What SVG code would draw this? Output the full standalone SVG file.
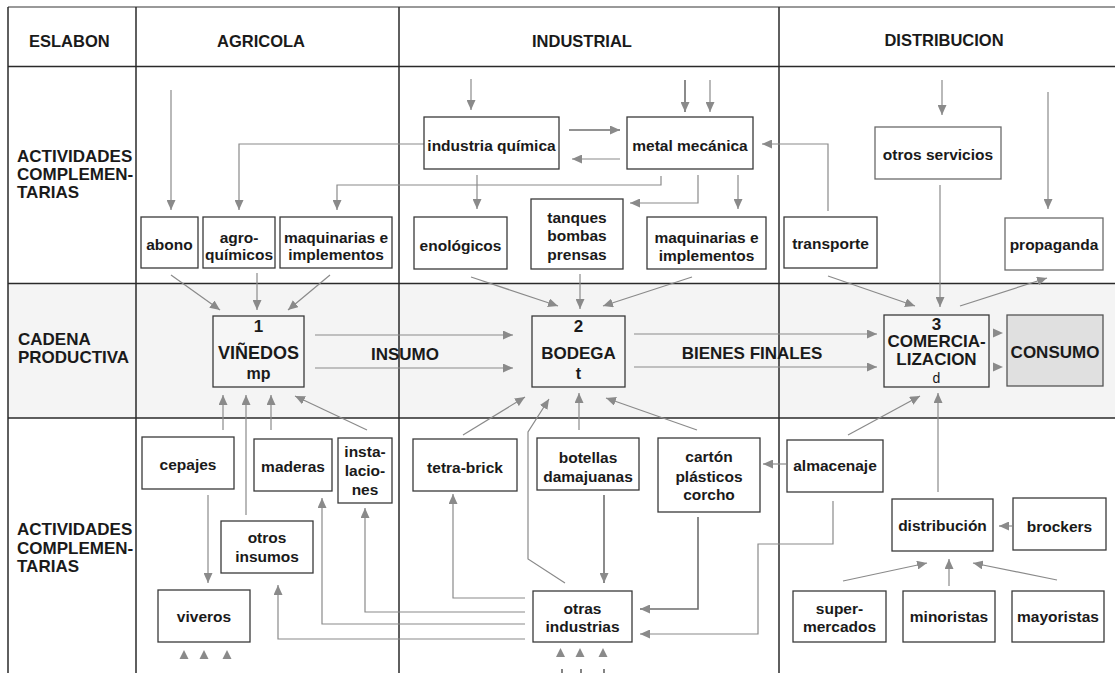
<svg xmlns="http://www.w3.org/2000/svg" width="1115" height="673" viewBox="0 0 1115 673">
<style>
.bg{fill:#ffffff}
.band{fill:#f4f4f4}
.grid{stroke:#2a2a2a;stroke-width:1.5;fill:none}
.n rect{fill:#ffffff;stroke:#3a3a3a;stroke-width:1.3}
.n.light rect{stroke:#6a6a6a}
.n.cad rect{fill:#f6f6f6}
.n.cons rect{fill:#e0e0e0;stroke:#555}
text{font-family:"Liberation Sans",Arial,Helvetica,sans-serif;font-weight:bold;fill:#1a1a1a}
.t{font-size:15.5px;text-anchor:middle}
.h{font-size:16.5px}
.hc{font-size:16.5px;text-anchor:middle}
.lab{font-size:17px}
.big{font-size:17px;text-anchor:middle}
.c line,.c polyline{fill:none;stroke:#8a8a8a;stroke-width:1.2;marker-end:url(#ah)}
.c .dk{stroke:#6e6e6e;stroke-width:1.6}
.c .nm{marker-end:none}
.tri{fill:#8a8a8a}
</style>
<defs>
<marker id="ah" viewBox="0 0 10 9" refX="10" refY="4.5" markerWidth="10" markerHeight="9" markerUnits="userSpaceOnUse" orient="auto">
<path d="M0,0 L10,4.5 L0,9 z" fill="#8a8a8a"/>
</marker>
</defs>
<rect class="bg" x="0" y="0" width="1115" height="673"/>
<rect class="band" x="8" y="283.5" width="1107" height="134.5"/>
<g id="table">
<line class="grid" x1="8" y1="7" x2="1115" y2="7" style="stroke:#777"/>
<line class="grid" x1="8" y1="66.5" x2="1115" y2="66.5"/>
<line class="grid" x1="8" y1="283.5" x2="1115" y2="283.5"/>
<line class="grid" x1="8" y1="418" x2="1115" y2="418"/>
<line class="grid" x1="8" y1="7" x2="8" y2="673"/>
<line class="grid" x1="136" y1="7" x2="136" y2="673"/>
<line class="grid" x1="399" y1="7" x2="399" y2="673"/>
<line class="grid" x1="779" y1="7" x2="779" y2="673"/>
<text class="h" x="29" y="46.5">ESLABON</text>
<text class="hc" x="261" y="46.5">AGRICOLA</text>
<text class="hc" x="582" y="46.5">INDUSTRIAL</text>
<text class="hc" x="944" y="46">DISTRIBUCION</text>
<text class="lab" x="17" y="161.5">ACTIVIDADES</text>
<text class="lab" x="17" y="180">COMPLEMEN-</text>
<text class="lab" x="17" y="198.3">TARIAS</text>
<text class="lab" x="18" y="345">CADENA</text>
<text class="lab" x="18" y="363.3">PRODUCTIVA</text>
<text class="lab" x="17" y="535">ACTIVIDADES</text>
<text class="lab" x="17" y="553.5">COMPLEMEN-</text>
<text class="lab" x="17" y="572">TARIAS</text>
<text class="big" x="405" y="359.5">INSUMO</text>
<text class="big" x="752" y="359">BIENES FINALES</text>
</g>

<g class="c" id="connectors">
<line x1="171" y1="90" x2="171" y2="210"/>
<polyline points="424,144 239,144 239,210"/>
<polyline points="661,176 661,185 337,185 337,210"/>
<line x1="471" y1="79" x2="471" y2="110"/>
<line class="dk" x1="685" y1="80" x2="685" y2="112"/>
<line x1="710" y1="80" x2="710" y2="112"/>
<line class="dk" x1="569" y1="130" x2="620" y2="130"/>
<line x1="620" y1="159" x2="572" y2="159"/>
<polyline points="828,211 828,144 762,144"/>
<line x1="477" y1="175" x2="477" y2="209"/>
<polyline points="698,175 698,203 630,203"/>
<line x1="738" y1="175" x2="738" y2="209"/>
<line x1="942" y1="80" x2="942" y2="115"/>
<line x1="1048" y1="92" x2="1048" y2="209"/>
<line x1="940" y1="185" x2="940" y2="307"/>
<line x1="960" y1="306" x2="1047" y2="278"/>
<line x1="828" y1="276" x2="915" y2="306"/>
<line x1="171" y1="275" x2="220" y2="310"/>
<line x1="257" y1="273" x2="257" y2="310"/>
<line x1="330" y1="275" x2="288" y2="310"/>
<line x1="471" y1="277" x2="558" y2="306"/>
<line x1="580" y1="274" x2="580" y2="309"/>
<line x1="692" y1="277" x2="603" y2="306"/>
<line x1="315" y1="335" x2="513" y2="335"/>
<line x1="315" y1="368" x2="513" y2="368"/>
<line x1="634" y1="334" x2="877" y2="334"/>
<line x1="634" y1="367" x2="877" y2="367"/>
<line x1="223" y1="430" x2="223" y2="395"/>
<line x1="246" y1="515" x2="246" y2="395"/>
<line x1="271" y1="430" x2="271" y2="395"/>
<line x1="367" y1="430" x2="295" y2="396"/>
<line x1="208" y1="495" x2="208" y2="583"/>
<polyline points="525,612 365,612 365,508"/>
<polyline points="525,624 322,624 322,498"/>
<polyline points="525,639 278,639 278,585"/>
<polyline points="525,598 453,598 453,494"/>
<line class="dk" x1="604" y1="495" x2="604" y2="583"/>
<polyline class="dk" points="698,517 698,609 640,609"/>
<polyline points="833,501 833,544 758,544 758,634 640,634"/>
<line x1="786" y1="464" x2="763" y2="464"/>
<line x1="463" y1="435" x2="525" y2="397"/>
<polyline points="565,583 528,559 528,432 549,399"/>
<line x1="579" y1="430" x2="579" y2="393"/>
<line x1="697" y1="430" x2="606" y2="398"/>
<line x1="848" y1="435" x2="920" y2="396"/>
<line x1="938" y1="492" x2="938" y2="393"/>
<line x1="1012" y1="526" x2="999" y2="526"/>
<line x1="843" y1="581" x2="927" y2="563"/>
<line x1="949" y1="586" x2="949" y2="559"/>
<line x1="1057" y1="580" x2="973" y2="563"/>
<path class="tri" d="M993,328.5 L1003,333 L993,337.5 z"/>
<path class="tri" d="M993,362.5 L1003,367 L993,371.5 z"/>
<path class="tri" d="M179.5,659 L184,650 L188.5,659 z"/>
<path class="tri" d="M199.5,659 L204,650 L208.5,659 z"/>
<path class="tri" d="M222.5,659 L227,650 L231.5,659 z"/>
<path class="tri" d="M556,657 L560.5,648 L565,657 z"/>
<path class="tri" d="M575.5,657 L580,648 L584.5,657 z"/>
<path class="tri" d="M598.5,657 L603,648 L607.5,657 z"/>
<line class="nm" x1="562" y1="669" x2="562" y2="673" style="stroke:#333"/>
<line class="nm" x1="581" y1="669" x2="581" y2="673" style="stroke:#333"/>
<line class="nm" x1="604" y1="669" x2="604" y2="673" style="stroke:#333"/>
</g>

<g id="abono" class="n"><rect x="141" y="217" width="57" height="51"/><text class="t" x="169.5" y="250">abono</text></g>
<g id="agroquimicos" class="n"><rect x="203" y="217" width="72" height="51"/><text class="t" x="239" y="243">agro-</text><text class="t" x="239" y="260">químicos</text></g>
<g id="maquinarias-agri" class="n"><rect x="280" y="217" width="112" height="51"/><text class="t" x="336" y="243">maquinarias e</text><text class="t" x="336" y="260">implementos</text></g>
<g id="industria-quimica" class="n"><rect x="424" y="117" width="135" height="52"/><text class="t" x="491.5" y="150.5">industria química</text></g>
<g id="metal-mecanica" class="n"><rect x="627" y="117" width="126" height="52"/><text class="t" x="690" y="150.5">metal mecánica</text></g>
<g id="enologicos" class="n"><rect x="414" y="217" width="93" height="52"/><text class="t" x="460.5" y="250.5">enológicos</text></g>
<g id="tanques" class="n"><rect x="531" y="199" width="92" height="70"/><text class="t" x="577" y="222.5">tanques</text><text class="t" x="577" y="241">bombas</text><text class="t" x="577" y="259.5">prensas</text></g>
<g id="maquinarias-ind" class="n"><rect x="647" y="217" width="119" height="52"/><text class="t" x="706.5" y="243.3">maquinarias e</text><text class="t" x="706.5" y="260.5">implementos</text></g>
<g id="otros-servicios" class="n light"><rect x="875" y="127" width="126" height="52"/><text class="t" x="938" y="160">otros servicios</text></g>
<g id="transporte" class="n"><rect x="784" y="217" width="93" height="51"/><text class="t" x="830.5" y="248.5">transporte</text></g>
<g id="propaganda" class="n light"><rect x="1005" y="218" width="98" height="52"/><text class="t" x="1054" y="250">propaganda</text></g>

<g id="vinedos" class="n cad"><rect x="213" y="316" width="91" height="71"/><text class="big" x="258.5" y="331.5">1</text><text class="big" x="258.5" y="358.5" style="font-size:18px">VIÑEDOS</text><text class="t" x="258.5" y="379" style="font-size:16px">mp</text></g>
<g id="bodega" class="n cad"><rect x="532" y="316" width="93" height="71"/><text class="big" x="578.5" y="331.5">2</text><text class="big" x="578.5" y="358.5">BODEGA</text><text class="t" x="578.5" y="379" style="font-size:16px">t</text></g>
<g id="comercializacion" class="n cad"><rect x="884" y="315" width="105" height="72"/><text class="big" x="936.5" y="329.5">3</text><text class="big" x="936.5" y="346.5">COMERCIA-</text><text class="big" x="936.5" y="364.5">LIZACION</text><text class="t" x="936.5" y="382.5" style="font-weight:normal;font-size:14px">d</text></g>
<g id="consumo" class="n cons"><rect x="1007" y="315" width="96" height="71"/><text class="big" x="1055" y="358.3">CONSUMO</text></g>

<g id="cepajes" class="n"><rect x="142" y="437" width="92" height="52"/><text class="t" x="188" y="470">cepajes</text></g>
<g id="maderas" class="n"><rect x="254" y="439" width="78" height="52"/><text class="t" x="293" y="471.5">maderas</text></g>
<g id="instalaciones" class="n"><rect x="338" y="438" width="54" height="65"/><text class="t" x="365" y="456.5">insta-</text><text class="t" x="365" y="476">lacio-</text><text class="t" x="365" y="495">nes</text></g>
<g id="otros-insumos" class="n"><rect x="221" y="521" width="92" height="52"/><text class="t" x="267" y="542.7">otros</text><text class="t" x="267" y="561.7">insumos</text></g>
<g id="viveros" class="n"><rect x="158" y="590" width="92" height="52"/><text class="t" x="204" y="621.5">viveros</text></g>
<g id="tetra-brick" class="n"><rect x="413" y="439" width="104" height="52"/><text class="t" x="465" y="473">tetra-brick</text></g>
<g id="botellas" class="n"><rect x="537" y="438" width="102" height="52"/><text class="t" x="588" y="462.7">botellas</text><text class="t" x="588" y="481.7">damajuanas</text></g>
<g id="carton" class="n"><rect x="658" y="438" width="102" height="74"/><text class="t" x="709" y="462.3">cartón</text><text class="t" x="709" y="481.5">plásticos</text><text class="t" x="709" y="500">corcho</text></g>
<g id="otras-industrias" class="n"><rect x="533" y="591" width="99" height="51"/><text class="t" x="582.5" y="614">otras</text><text class="t" x="582.5" y="632.3">industrias</text></g>
<g id="almacenaje" class="n"><rect x="787" y="440" width="96" height="52"/><text class="t" x="835" y="471">almacenaje</text></g>
<g id="distribucion" class="n"><rect x="892" y="499" width="101" height="52"/><text class="t" x="942.5" y="531">distribución</text></g>
<g id="brockers" class="n"><rect x="1013" y="498" width="93" height="52"/><text class="t" x="1059.5" y="531.5">brockers</text></g>
<g id="supermercados" class="n"><rect x="793" y="591" width="93" height="51"/><text class="t" x="839.5" y="614.3">super-</text><text class="t" x="839.5" y="632.3">mercados</text></g>
<g id="minoristas" class="n"><rect x="903" y="591" width="92" height="51"/><text class="t" x="949" y="621.5">minoristas</text></g>
<g id="mayoristas" class="n"><rect x="1012" y="591" width="92" height="51"/><text class="t" x="1058" y="621.5">mayoristas</text></g>
</svg>
